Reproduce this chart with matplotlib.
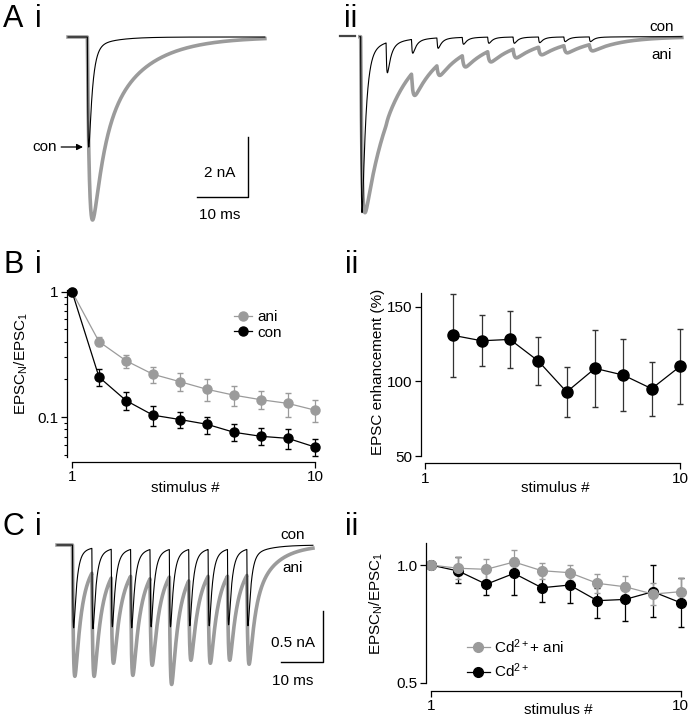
import numpy as np
import matplotlib
matplotlib.use('Agg')
import matplotlib.pyplot as plt
from matplotlib.lines import Line2D
from matplotlib.ticker import NullFormatter, NullLocator

plt.rcParams['font.family'] = ['Liberation Sans', 'DejaVu Sans']
plt.rcParams['mathtext.fontset'] = 'custom'
plt.rcParams['mathtext.rm'] = 'Liberation Sans'
plt.rcParams['mathtext.it'] = 'Liberation Sans:italic'

W, H = 694, 719
GRAY = '#9b9b9b'
FS = 11

# ---------------- data ----------------
# A i: single EPSC peaks (nA)
ai_stim = [3.8]
ai_con = [3.67]
ai_ani = [6.1]
# A ii: 10-pulse train (200 Hz), peaks normalised to first EPSC
aii_stim = [4.07 + 5.0 * k for k in range(10)]
aii_con = [1.0, 0.205, 0.094, 0.066, 0.043, 0.0375, 0.0375, 0.034, 0.028, 0.028]
aii_ani = [1.0, 0.426, 0.33, 0.216, 0.17, 0.142, 0.119, 0.102, 0.091, 0.08]
# C i: train in Cd2+ (nA)
ci_stim = [3.66 + 4.58 * k for k in range(10)]
ci_con = [0.82, 0.83, 0.81, 0.82, 0.81, 0.81, 0.80, 0.80, 0.79, 0.80]
ci_ani = [1.30, 1.30, 1.17, 1.29, 1.19, 1.38, 1.14, 1.17, 1.14, 1.18]

# B i: EPSC_N/EPSC_1
stim = np.arange(1, 11)
bi_ani = [1, 0.40, 0.282, 0.22, 0.192, 0.167, 0.15, 0.138, 0.129, 0.114]
bi_ani_hi = [1, 0.433, 0.313, 0.253, 0.224, 0.2, 0.179, 0.163, 0.155, 0.138]
bi_ani_lo = [1, 0.369, 0.245, 0.187, 0.163, 0.136, 0.124, 0.116, 0.101, 0.092]
bi_con = [1, 0.209, 0.136, 0.104, 0.096, 0.088, 0.076, 0.0706, 0.068, 0.058]
bi_con_hi = [1, 0.244, 0.158, 0.122, 0.111, 0.101, 0.089, 0.082, 0.081, 0.067]
bi_con_lo = [1, 0.179, 0.114, 0.086, 0.082, 0.074, 0.065, 0.060, 0.056, 0.049]

# B ii: EPSC enhancement (%)
bii_stim = np.arange(2, 11)
bii_mean = [130.8, 127.2, 128.1, 113.6, 92.9, 108.7, 104.2, 95.1, 110.0]
bii_err = [28, 17, 19, 16, 17, 26, 24, 18, 25]

# C ii: EPSC_N/EPSC_1 in Cd2+
cii_ani = [1.0, 0.981, 0.975, 1.018, 0.967, 0.956, 0.898, 0.880, 0.843, 0.855]
cii_ani_hi = [1.0, 1.046, 1.034, 1.092, 1.014, 1.0, 0.948, 0.937, 0.898, 0.925]
cii_ani_lo = [1.0, 0.920, 0.916, 0.952, 0.920, 0.916, 0.850, 0.830, 0.790, 0.790]
cii_con = [1.0, 0.965, 0.893, 0.952, 0.875, 0.889, 0.811, 0.817, 0.855, 0.801]
cii_con_hi = [1.0, 1.05, 0.962, 1.04, 0.943, 0.952, 0.872, 0.898, 1.0, 0.925]
cii_con_lo = [1.0, 0.901, 0.838, 0.838, 0.803, 0.798, 0.731, 0.72, 0.736, 0.696]

# EPSC kinetics: rise tau, fast fraction, fast tau, slow tau (ms)
kin_con = (0.15, 0.93, 0.7, 4.0)
kin_ani = (0.5, 0.574, 2.0, 8.0)
kin_aii_ani = (0.3, 0.1, 1.0, 6.0)
kin_ci_ani = (0.3, 0.72, 1.2, 5.0)


def shape(t, kin):
    tr, af, tf, ts = kin
    tc = np.clip(t, 0, None)
    s = (1 - np.exp(-tc / tr)) * (af * np.exp(-tc / tf) + (1 - af) * np.exp(-tc / ts))
    return np.where(t > 0, s, 0.0)


def train(t, stims, peaks, kin):
    tt = np.linspace(0, 30, 30001)
    ss = shape(tt, kin)
    norm = ss.max()
    tpk = tt[np.argmax(ss)]
    amps = []
    for k, tk in enumerate(stims):
        level = sum(a * shape(np.array([tk + tpk - tj]), kin)[0] / norm
                    for a, tj in zip(amps, stims))
        amps.append(peaks[k] - level)
    out = np.zeros_like(t)
    for a, tk in zip(amps, stims):
        out += a * shape(t - tk, kin) / norm
    return -out


def px_axes(fig, x0, y0, x1, y1):
    return fig.add_axes([x0 / W, 1 - y1 / H, (x1 - x0) / W, (y1 - y0) / H])


fig = plt.figure(figsize=(W / 100, H / 100), dpi=100)

# panel labels
def plabel(x, y, s):
    fig.text(x / W, 1 - y / H, s, fontsize=22, va='top', ha='left')

plabel(3, 4, 'A')
plabel(35, 4, 'i')
plabel(344, 4, 'ii')
plabel(3, 250, 'B')
plabel(35, 250, 'i')
plabel(345, 250, 'ii')
plabel(3, 512, 'C')
plabel(35, 512, 'i')
plabel(345, 512, 'ii')

# ---------------- A i ----------------
ax = px_axes(fig, 20, 25, 275, 230)
ax.set_xlim((20 - 68) / 5.1, (275 - 68) / 5.1)
ax.set_ylim(-(230 - 37) / 30, (37 - 25) / 30)
ax.axis('off')
t = np.linspace(0, 38.6, 4000)
ax.plot(t, train(t, ai_stim, ai_ani, kin_ani), color=GRAY, lw=2.6)
ax.plot(t, train(t, ai_stim, ai_con, kin_con), color='k', lw=0.8)
# scale bar 10 ms / 2 nA
sx, sy = 35.3, -5.33
ax.plot([sx - 10, sx, sx], [sy, sy, sy + 2], color='k', lw=1.0)
ax.text(sx - 5.5, sy + 0.8, '2 nA', ha='center', va='center', fontsize=FS)
ax.text(sx - 5.5, sy - 0.6, '10 ms', ha='center', va='center', fontsize=FS)
ax.annotate('con', xy=((83 - 68) / 5.1, -(147 - 37) / 30),
            xytext=((57 - 68) / 5.1, -(147 - 37) / 30),
            ha='right', va='center', fontsize=FS,
            arrowprops=dict(arrowstyle='-|>', color='k', lw=0.9,
                            shrinkA=1, shrinkB=0, mutation_scale=9))

# ---------------- A ii ----------------
ax = px_axes(fig, 335, 25, 690, 225)
k2 = 5.08
ax.set_xlim((335 - 340) / k2, (690 - 340) / k2)
ax.set_ylim(-(225 - 36.7) / 176, (36.7 - 25) / 176)
ax.axis('off')
ax.plot([0, 2.95], [0.005, 0.005], color='#444444', lw=1.6)
t = np.linspace(3.9, 67.3, 6000)
ax.plot(t, train(t, aii_stim, aii_ani, kin_aii_ani), color=GRAY, lw=2.6)
ax.plot(t, train(t, aii_stim, aii_con, kin_con), color='k', lw=0.8)
ax.text((662 - 340) / k2, 0.055, 'con', ha='center', va='center', fontsize=FS)
ax.text((662 - 340) / k2, -0.104, 'ani', ha='center', va='center', fontsize=FS)

# ---------------- C i ----------------
ax = px_axes(fig, 40, 520, 330, 700)
k3 = 4.23
ax.set_xlim((40 - 57) / k3, (330 - 57) / k3)
ax.set_ylim(-(700 - 545) / 101, (545 - 520) / 101)
ax.axis('off')
t = np.linspace(0, 60.5, 6000)
ax.plot(t, train(t, ci_stim, ci_ani, kin_ci_ani), color=GRAY, lw=2.6)
ax.plot(t, train(t, ci_stim, ci_con, kin_con), color='k', lw=0.8)
sx, sy = 62.9, -1.155
ax.plot([sx - 10, sx, sx], [sy, sy, sy + 0.5], color='k', lw=1.0)
ax.text(55.8, -0.97, '0.5 nA', ha='center', va='center', fontsize=FS)
ax.text(55.8, -1.347, '10 ms', ha='center', va='center', fontsize=FS)
ax.text(55.8, 0.1, 'con', ha='center', va='center', fontsize=FS)
ax.text(55.8, -0.228, 'ani', ha='center', va='center', fontsize=FS)


def style_axes(ax, outward_px):
    for s in ['top', 'right']:
        ax.spines[s].set_visible(False)
    ax.spines['bottom'].set_position(('outward', outward_px * 0.72))
    ax.spines['bottom'].set_bounds(1, 10)
    for s in ['left', 'bottom']:
        ax.spines[s].set_linewidth(0.9)
    ax.set_xticks([1, 10])
    ax.set_xticklabels(['1', '10'])
    ax.tick_params(direction='out', length=4, width=0.9, labelsize=FS, pad=2)
    ax.tick_params(which='minor', direction='out', length=2.5, width=0.8)


def err(mean, hi, lo):
    return [np.array(mean) - np.array(lo), np.array(hi) - np.array(mean)]


# ---------------- B i ----------------
ax = px_axes(fig, 66.7, 290, 325, 456.7)
ax.set_yscale('log')
ax.set_xlim(1 - 5.3 / 27, 10 + 10 / 27)
ax.set_ylim(0.0486, 1.03)
style_axes(ax, 5)
ax.set_yticks([0.1, 1])
ax.set_yticklabels(['0.1', '1'])
ax.yaxis.set_minor_formatter(NullFormatter())
ax.errorbar(stim, bi_ani, yerr=err(bi_ani, bi_ani_hi, bi_ani_lo), fmt='-o', color=GRAY,
            ms=6.5, lw=0.9, elinewidth=0.9, capsize=2.5, clip_on=False)
ax.errorbar(stim, bi_con, yerr=err(bi_con, bi_con_hi, bi_con_lo), fmt='-o', color='k',
            ms=6.5, lw=0.9, elinewidth=0.9, capsize=2.5, clip_on=False)
ax.set_xlabel('stimulus #', fontsize=FS)
ax.xaxis.set_label_coords(0.46, -0.19)
ax.xaxis.label.set_va('center')
ax.set_ylabel(r'EPSC$_\mathregular{N}$/EPSC$_\mathregular{1}$', fontsize=FS)
ax.yaxis.set_label_coords(-0.177, 0.56)
ax.yaxis.label.set_va('center')
hs = [Line2D([], [], color=GRAY, marker='o', ms=6.5, lw=0.9),
      Line2D([], [], color='k', marker='o', ms=6.5, lw=0.9)]
ax.legend(hs, ['ani', 'con'], loc='upper left', bbox_to_anchor=(234 / W, 1 - 310 / H),
          bbox_transform=fig.transFigure, frameon=False, fontsize=FS, handlelength=1.2,
          handletextpad=0.3, labelspacing=0.1, borderpad=0, borderaxespad=0)

# ---------------- B ii ----------------
ax = px_axes(fig, 421, 292.7, 690, 456)
ax.set_xlim(1 - 4 / 28.33, 10 + 10 / 28.33)
ax.set_ylim(50, 159.4)
style_axes(ax, 7.3)
ax.set_yticks([50, 100, 150])
ax.errorbar(bii_stim, bii_mean, yerr=bii_err, fmt='-o', color='k', ecolor='#333333',
            ms=8, lw=0.9, elinewidth=0.9, capsize=2.5, clip_on=False)
ax.set_xlabel('stimulus #', fontsize=FS)
ax.xaxis.set_label_coords(0.5, -0.196)
ax.xaxis.label.set_va('center')
ax.set_ylabel('EPSC enhancement (%)', fontsize=FS)
ax.yaxis.set_label_coords(-0.16, 0.514)
ax.yaxis.label.set_va('center')

# ---------------- C ii ----------------
ax = px_axes(fig, 426, 543, 690, 683)
ax.set_yscale('log')
ax.set_xlim(1 - 4.7 / 27.78, 10 + 9.3 / 27.78)
ax.set_ylim(0.5, 1.138)
style_axes(ax, 7.7)
ax.set_yticks([0.5, 1.0])
ax.set_yticklabels(['0.5', '1.0'])
ax.yaxis.set_minor_locator(NullLocator())
ax.errorbar(stim, cii_con, yerr=err(cii_con, cii_con_hi, cii_con_lo), fmt='-o', color='k',
            ms=7, lw=0.9, elinewidth=0.9, capsize=2.5, clip_on=False)
ax.errorbar(stim, cii_ani, yerr=err(cii_ani, cii_ani_hi, cii_ani_lo), fmt='-o', color=GRAY,
            ms=7, lw=0.9, elinewidth=0.9, capsize=2.5, clip_on=False)
ax.set_xlabel('stimulus #', fontsize=FS)
ax.xaxis.set_label_coords(0.5, -0.193)
ax.xaxis.label.set_va('center')
ax.set_ylabel(r'EPSC$_\mathregular{N}$/EPSC$_\mathregular{1}$', fontsize=FS)
ax.yaxis.set_label_coords(-0.19, 0.571)
ax.yaxis.label.set_va('center')
hs = [Line2D([], [], color=GRAY, marker='o', ms=7, lw=0.9),
      Line2D([], [], color='k', marker='o', ms=7, lw=0.9)]
ax.legend(hs, [r'Cd$^{\mathregular{2+}}$+ ani', r'Cd$^{\mathregular{2+}}$'], loc='upper left',
          bbox_to_anchor=(467 / W, 1 - 637 / H), bbox_transform=fig.transFigure,
          frameon=False, fontsize=FS, handlelength=1.5, handletextpad=0.25,
          labelspacing=0.4, borderpad=0, borderaxespad=0)

fig.savefig('out.png', dpi=100)
